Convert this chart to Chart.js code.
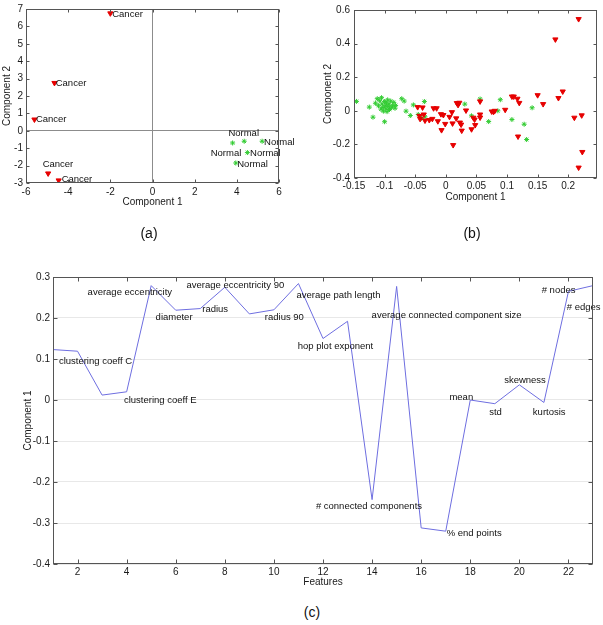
<!DOCTYPE html>
<html>
<head>
<meta charset="utf-8">
<script src="https://cdn.jsdelivr.net/npm/chart.js@4.4.1/dist/chart.umd.min.js"></script>
<style>
  body { margin: 0; background: #fff; width: 603px; height: 625px; position: relative; overflow: hidden;
         font-family: "Liberation Sans", Arial, sans-serif; }
  .panel { position: absolute; }
  .cap { position: absolute; font-size: 14px; color: #111; transform: translate(-50%, -50%); }
</style>
</head>
<body>
<div class="panel" style="left:0;top:0;width:300px;height:215px"><canvas id="chart-a" width="300" height="215"></canvas></div>
<div class="panel" style="left:300px;top:0;width:303px;height:215px"><canvas id="chart-b" width="303" height="215"></canvas></div>
<div class="panel" style="left:0;top:240px;width:603px;height:355px"><canvas id="chart-c" width="603" height="355"></canvas></div>
<div class="cap" style="left:149px;top:233px">(a)</div>
<div class="cap" style="left:472px;top:233px">(b)</div>
<div class="cap" style="left:312px;top:612px">(c)</div>

<script>
// (a) small sample: 5 cancer vs 5 normal
const aCancerX = [-2.0, -4.65, -5.6, -4.95, -4.45];
const aCancerY = [6.75, 2.75, 0.65, -2.45, -2.85];
const aNormalX = [3.8, 4.35, 5.2, 4.5, 3.95];
const aNormalY = [-0.7, -0.6, -0.6, -1.25, -1.85];
const aLabelText = ['Cancer', 'Cancer', 'Cancer', 'Cancer', 'Cancer', 'Normal', 'Normal', 'Normal', 'Normal', 'Normal'];
const aLabelX = [-1.91, -4.59, -5.53, -5.21, -4.31, 3.6, 5.29, 2.76, 4.63, 4.02];
const aLabelY = [6.68, 2.71, 0.63, -1.94, -2.77, -0.14, -0.67, -1.31, -1.29, -1.93];
const aTicksX = [-6, -4, -2, 0, 2, 4, 6];
const aTicksY = [-3, -2, -1, 0, 1, 2, 3, 4, 5, 6, 7];

// (b) full sample
const bNormalX = [-0.146, -0.125, -0.119, -0.115, -0.112, -0.110, -0.108, -0.106, -0.105, -0.104,
  -0.103, -0.102, -0.100, -0.100, -0.099, -0.098, -0.097, -0.096, -0.095, -0.094,
  -0.093, -0.092, -0.090, -0.089, -0.087, -0.085, -0.083, -0.082, -0.072, -0.068,
  -0.065, -0.058, -0.053, -0.045, -0.035, -0.034, -0.040, 0.031, 0.042, 0.056,
  0.070, 0.085, 0.089, 0.108, 0.128, 0.132, 0.141];
const bNormalY = [0.056, 0.022, -0.038, 0.045, 0.072, 0.030, 0.060, 0.010, 0.078, 0.040,
  0.020, -0.002, -0.065, 0.055, 0.030, 0.012, 0.045, -0.005, 0.065, 0.025,
  0.040, 0.008, 0.058, 0.018, 0.030, 0.050, 0.015, 0.032, 0.072, 0.058,
  -0.002, -0.028, 0.035, -0.022, 0.055, -0.036, -0.045, 0.040, -0.030, 0.070,
  -0.064, 0.000, 0.066, -0.052, -0.080, -0.171, 0.018];
const bCancerX = [-0.046, -0.043, -0.042, -0.038, -0.036, -0.034, -0.027, -0.022, -0.020, -0.015,
  -0.013, -0.008, -0.007, -0.004, -0.001, 0.006, 0.010, 0.011, 0.012, 0.017,
  0.018, 0.020, 0.022, 0.023, 0.025, 0.026, 0.033, 0.042, 0.045, 0.047,
  0.048, 0.056, 0.056, 0.056, 0.075, 0.078, 0.080, 0.097, 0.108, 0.111,
  0.117, 0.120, 0.118, 0.150, 0.159, 0.179, 0.184, 0.191, 0.210, 0.217,
  0.217, 0.222, 0.223];
const bCancerY = [0.022, -0.030, -0.048, 0.020, -0.022, -0.058, -0.055, -0.048, 0.015, 0.015,
  -0.062, -0.020, -0.115, -0.025, -0.078, -0.036, -0.008, -0.075, -0.204, -0.045,
  0.046, 0.035, 0.048, -0.070, -0.082, -0.118, 0.002, -0.110, -0.041, -0.052,
  -0.085, 0.056, -0.022, -0.040, -0.004, -0.006, 0.000, 0.006, 0.085, 0.085,
  0.072, 0.047, -0.153, 0.093, 0.040, 0.425, 0.076, 0.115, -0.041, 0.546,
  -0.338, -0.027, -0.245];
const bTicksX = [-0.15, -0.1, -0.05, 0, 0.05, 0.1, 0.15, 0.2];
const bTicksY = [-0.4, -0.2, 0, 0.2, 0.4, 0.6];

// (c) loadings of the 23 features on component 1
const cFeatures = [1, 2, 3, 4, 5, 6, 7, 8, 9, 10, 11, 12, 13, 14, 15, 16, 17, 18, 19, 20, 21, 22, 23];
const cComp1 = [0.123, 0.119, 0.012, 0.020, 0.279, 0.219, 0.223, 0.275, 0.210, 0.220, 0.284, 0.150,
  0.192, -0.243, 0.277, -0.312, -0.320, 0.000, -0.009, 0.037, -0.006, 0.265, 0.279];
const cLabelText = ['clustering coeff C', 'clustering coeff E', 'average eccentricity', 'diameter', 'radius',
  'average eccentricity 90', 'radius 90', 'average path length', 'hop plot exponent', '# connected components',
  'average connected component size', '% end points', 'mean', 'std', 'skewness', 'kurtosis', '# nodes', '# edges'];
const cLabelX = [1.24, 3.89, 2.41, 5.18, 7.08, 6.44, 9.63, 10.92, 10.97, 11.71, 13.98, 17.04, 17.15, 18.77, 19.38, 20.55, 20.91, 21.93];
const cLabelY = [0.093, 0.0, 0.262, 0.201, 0.221, 0.279, 0.201, 0.254, 0.131, -0.26, 0.206, -0.325, 0.006, -0.029, 0.049, -0.029, 0.267, 0.225];
const cTicksX = [2, 4, 6, 8, 10, 12, 14, 16, 18, 20, 22];
const cTicksY = [-0.4, -0.3, -0.2, -0.1, 0, 0.1, 0.2, 0.3];

const FONT = '"Liberation Sans", Arial, sans-serif';
Chart.defaults.font.family = FONT;
Chart.defaults.font.size = 10;
Chart.defaults.color = '#1a1a1a';

const RED = '#e60000';
const GREEN = '#33cc33';

function toPoints(xs, ys) {
  return xs.map((x, i) => ({ x: x, y: ys[i] }));
}

// text next to points, placed in data coordinates
function textPlugin(text, xs, ys) {
  return {
    id: 'pointText',
    afterDatasetsDraw(chart) {
      const { ctx, scales } = chart;
      ctx.save();
      ctx.font = '9.5px ' + FONT;
      ctx.fillStyle = '#111';
      ctx.textAlign = 'left';
      ctx.textBaseline = 'middle';
      text.forEach((t, i) => {
        ctx.fillText(t, scales.x.getPixelForValue(xs[i]), scales.y.getPixelForValue(ys[i]));
      });
      ctx.restore();
    }
  };
}

// matlab style box with inward ticks on all four sides
function boxPlugin(tickLen) {
  return {
    id: 'axesBox',
    afterDraw(chart) {
      const { ctx, chartArea: a, scales } = chart;
      const l = Math.round(a.left) + 0.5, r = Math.round(a.right) - 0.5;
      const t = Math.round(a.top) + 0.5, b = Math.round(a.bottom) - 0.5;
      ctx.save();
      ctx.strokeStyle = '#555';
      ctx.lineWidth = 1;
      ctx.strokeRect(l, t, r - l, b - t);
      ctx.beginPath();
      scales.x.ticks.forEach(tk => {
        const px = Math.round(scales.x.getPixelForValue(tk.value)) + 0.5;
        ctx.moveTo(px, b); ctx.lineTo(px, b - tickLen);
        ctx.moveTo(px, t); ctx.lineTo(px, t + tickLen);
      });
      scales.y.ticks.forEach(tk => {
        const py = Math.round(scales.y.getPixelForValue(tk.value)) + 0.5;
        ctx.moveTo(l, py); ctx.lineTo(l + tickLen, py);
        ctx.moveTo(r, py); ctx.lineTo(r - tickLen, py);
      });
      ctx.stroke();
      ctx.restore();
    }
  };
}

// axis with a fixed list of ticks and a fixed thickness, so the plot box lands where it should
function makeAxis(min, max, ticks, title, size, pad, titlePad, gridColor) {
  return {
    type: 'linear',
    min: min,
    max: max,
    afterBuildTicks: scale => { scale.ticks = ticks.map(v => ({ value: v })); },
    afterFit: scale => {
      if (scale.isHorizontal()) scale.height = size; else scale.width = size;
    },
    border: { display: false },
    grid: { drawTicks: false, color: gridColor || 'rgba(0,0,0,0)', lineWidth: 1 },
    ticks: { padding: pad, maxRotation: 0, autoSkip: false, callback: v => String(v) },
    title: { display: true, text: title, padding: titlePad, font: { size: 10 } }
  };
}

const common = {
  responsive: false,
  animation: false,
  events: [],
  plugins: { legend: { display: false }, tooltip: { enabled: false } }
};

// (a)
function drawChartA() {
  const zeroLine = c => (c.tick && c.tick.value === 0 ? '#8c8c8c' : 'rgba(0,0,0,0)');
  new Chart(document.getElementById('chart-a'), {
    type: 'scatter',
    data: {
      datasets: [
        { data: toPoints(aCancerX, aCancerY), pointStyle: 'triangle', pointRotation: 180, pointRadius: 3,
          backgroundColor: RED, borderColor: RED, borderWidth: 1 },
        { data: toPoints(aNormalX, aNormalY), pointStyle: 'star', pointRadius: 2.5,
          backgroundColor: GREEN, borderColor: GREEN, borderWidth: 1 }
      ]
    },
    options: Object.assign({}, common, {
      layout: { padding: { top: 6, right: 21, bottom: 7, left: 0 } },
      scales: {
        x: makeAxis(-6, 6, aTicksX, 'Component 1', 25, 3, { top: 0, bottom: 0 }, zeroLine),
        y: makeAxis(-3, 7, aTicksY, 'Component 2', 26, 3, { top: 1, bottom: 0 }, zeroLine)
      }
    }),
    plugins: [textPlugin(aLabelText, aLabelX, aLabelY), boxPlugin(3)]
  });
}

// (b)
function drawChartB() {
  new Chart(document.getElementById('chart-b'), {
    type: 'scatter',
    data: {
      datasets: [
        { data: toPoints(bCancerX, bCancerY), pointStyle: 'triangle', pointRotation: 180, pointRadius: 3,
          backgroundColor: RED, borderColor: RED, borderWidth: 1 },
        { data: toPoints(bNormalX, bNormalY), pointStyle: 'star', pointRadius: 2.5,
          backgroundColor: GREEN, borderColor: GREEN, borderWidth: 1 }
      ]
    },
    options: Object.assign({}, common, {
      layout: { padding: { top: 7, right: 6, bottom: 12, left: 20 } },
      scales: {
        x: makeAxis(-0.15, 0.247, bTicksX, 'Component 1', 25, 2, { top: 0, bottom: 0 }),
        y: makeAxis(-0.4, 0.6, bTicksY, 'Component 2', 34, 4, { top: 2, bottom: 0 })
      }
    }),
    plugins: [boxPlugin(3)]
  });
}

// (c)
function drawChartC() {
  new Chart(document.getElementById('chart-c'), {
    type: 'line',
    data: {
      datasets: [
        { data: toPoints(cFeatures, cComp1), borderColor: '#6e6ee0', borderWidth: 1, pointRadius: 0, tension: 0, fill: false }
      ]
    },
    options: Object.assign({}, common, {
      layout: { padding: { top: 37, right: 10, bottom: 7, left: 20 } },
      scales: {
        x: makeAxis(1, 23, cTicksX, 'Features', 24, 2, { top: 0, bottom: 0 }),
        y: makeAxis(-0.4, 0.3, cTicksY, 'Component 1', 33, 3, { top: 2, bottom: 0 }, '#e8e8e8')
      }
    }),
    plugins: [textPlugin(cLabelText, cLabelX, cLabelY), boxPlugin(4)]
  });
}

drawChartA();
drawChartB();
drawChartC();
</script>
</body>
</html>
